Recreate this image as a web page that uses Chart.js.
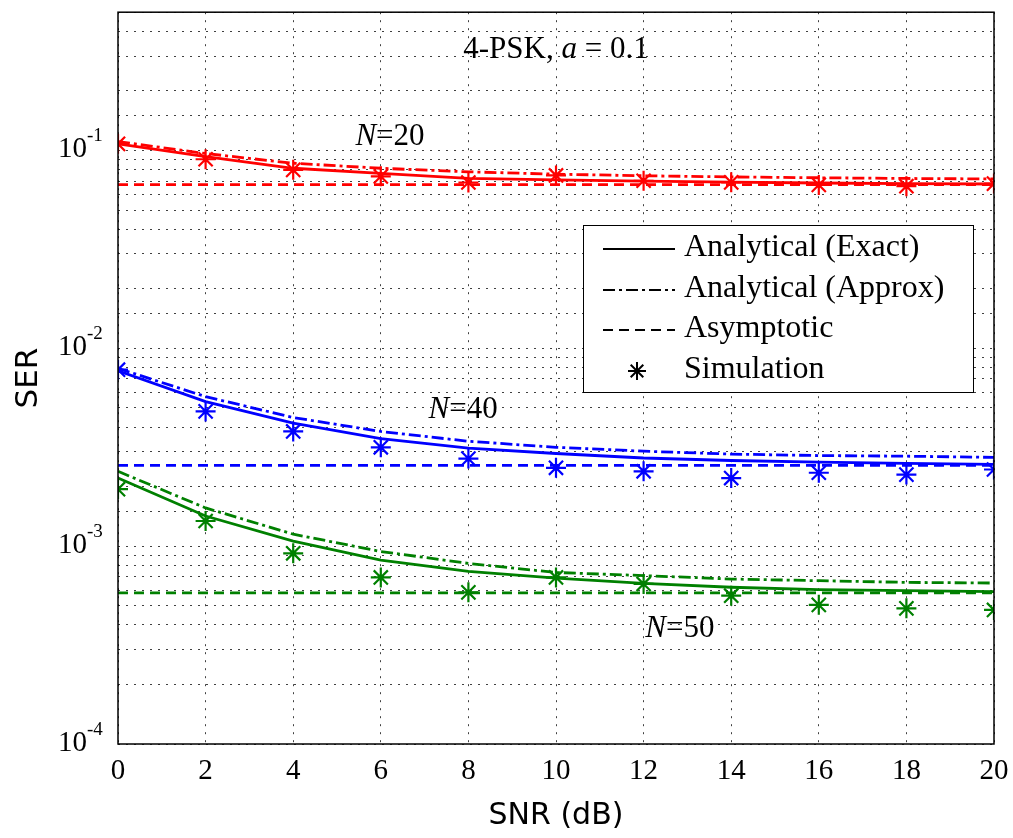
<!DOCTYPE html>
<html><head><meta charset="utf-8">
<script src="https://cdn.jsdelivr.net/npm/chart.js@4.4.0/dist/chart.umd.min.js"></script>
<style>html,body{margin:0;padding:0;background:#fff;}canvas{display:block;}</style>
</head><body>
<canvas id="c" width="1013" height="838"></canvas>
<script>
// ---- data ----
const snr = [0, 2, 4, 6, 8, 10, 12, 14, 16, 18, 20];
const xTickValues = [0, 2, 4, 6, 8, 10, 12, 14, 16, 18, 20];
const yDecadeExponents = [-4, -3, -2, -1];

const n20Exact  = [0.108, 0.093, 0.0813, 0.0766, 0.0722, 0.0711, 0.0700, 0.0692, 0.0685, 0.0680, 0.0677];
const n20Approx = [0.111, 0.0965, 0.0862, 0.0813, 0.0780, 0.0759, 0.0745, 0.0735, 0.0728, 0.0722, 0.0718];
const n20Asym   = 0.0672;
const n20Sim    = [0.108, 0.0903, 0.0798, 0.0740, 0.0689, 0.0748, 0.0703, 0.0690, 0.0670, 0.0660, 0.0680];

const n40Exact  = [0.00769, 0.00538, 0.00419, 0.00350, 0.00313, 0.00294, 0.00279, 0.00271, 0.00266, 0.00262, 0.00259];
const n40Approx = [0.00792, 0.00570, 0.00447, 0.00380, 0.00339, 0.00316, 0.00302, 0.00292, 0.00287, 0.00285, 0.00281];
const n40Asym   = 0.00256;
const n40Sim    = [0.00780, 0.00480, 0.00380, 0.00316, 0.00277, 0.00249, 0.00239, 0.00221, 0.00235, 0.00230, 0.00244];

const n50Exact  = [0.00221, 0.00142, 0.00106, 0.00085, 0.000745, 0.00069, 0.000648, 0.00062, 0.000603, 0.000596, 0.000589];
const n50Approx = [0.00239, 0.00156, 0.00115, 0.00094, 0.000818, 0.000736, 0.00071, 0.000682, 0.000669, 0.000656, 0.000651];
const n50Asym   = 0.00058;
const n50Sim    = [0.00194, 0.00134, 0.00092, 0.000695, 0.000584, 0.000695, 0.000644, 0.000562, 0.000505, 0.000485, 0.000476];

const legendLabels = ['Analytical (Exact)', 'Analytical (Approx)', 'Asymptotic', 'Simulation'];
const curveLabels = [
  {name: 'N', text: '=20', x: 6.21, y: 0.1175},
  {name: 'N', text: '=40', x: 7.88, y: 0.00491},
  {name: 'N', text: '=50', x: 12.83, y: 0.000384}
];
const plotTitle = {pre: '4-PSK, ', sym: 'a', post: ' = 0.1', x: 10, y: 0.322};

// ---- styling ----
const DASHDOT = [12, 4, 3, 4];
const DASHED = [10, 6];
const SERIF = '"Liberation Serif", "Times New Roman", serif';
const SANS = '"DejaVu Sans", sans-serif';
const LW = 2.8;

const pts = arr => arr.map((v, i) => ({x: snr[i], y: v}));
const flat = v => [{x: snr[0], y: v}, {x: snr[snr.length - 1], y: v}];

function group(color, exact, approx, asym, sim) {
  return [
    {data: pts(exact), borderColor: color, borderWidth: LW, pointRadius: 0, fill: false},
    {data: pts(approx), borderColor: color, borderWidth: LW, borderDash: DASHDOT, pointRadius: 0, fill: false},
    {data: flat(asym), borderColor: color, borderWidth: LW, borderDash: DASHED, pointRadius: 0, fill: false},
    {data: pts(sim), borderColor: color, showLine: false, pointStyle: 'star', pointRadius: 10,
     pointBorderWidth: 2.2, pointBorderColor: color, pointBackgroundColor: color}
  ];
}

const datasets = [
  ...group('#ff0000', n20Exact, n20Approx, n20Asym, n20Sim),
  ...group('#0000ff', n40Exact, n40Approx, n40Asym, n40Sim),
  ...group('#008000', n50Exact, n50Approx, n50Asym, n50Sim)
];

const overlay = {
  id: 'overlay',
  afterDraw(chart) {
    const {ctx, chartArea: a, scales: {x, y}} = chart;
    ctx.save();
    ctx.setLineDash([]);
    // frame
    ctx.strokeStyle = '#000';
    ctx.lineWidth = 1.5;
    ctx.strokeRect(a.left, a.top, a.right - a.left, a.bottom - a.top);

    // y decade tick labels with superscripts
    ctx.fillStyle = '#000';
    ctx.textBaseline = 'middle';
    for (const e of yDecadeExponents) {
      const py = y.getPixelForValue(Math.pow(10, e));
      ctx.font = '29px ' + SERIF;
      ctx.textAlign = 'right';
      ctx.fillText('10', a.left - 31, py - 1);
      ctx.font = '19px ' + SERIF;
      ctx.textAlign = 'left';
      ctx.fillText('-' + Math.abs(e), a.left - 31, py - 14);
    }

    // plot title
    ctx.textBaseline = 'middle';
    ctx.textAlign = 'left';
    const tfN = '31px ' + SERIF, tfI = 'italic 31px ' + SERIF;
    ctx.font = tfN; const w1 = ctx.measureText(plotTitle.pre).width;
    ctx.font = tfI; const w2 = ctx.measureText(plotTitle.sym).width;
    ctx.font = tfN; const w3 = ctx.measureText(plotTitle.post).width;
    let tx = x.getPixelForValue(plotTitle.x) - (w1 + w2 + w3) / 2;
    const ty = y.getPixelForValue(plotTitle.y);
    ctx.font = tfN; ctx.fillText(plotTitle.pre, tx, ty); tx += w1;
    ctx.font = tfI; ctx.fillText(plotTitle.sym, tx, ty); tx += w2;
    ctx.font = tfN; ctx.fillText(plotTitle.post, tx, ty);

    // curve labels
    for (const c of curveLabels) {
      ctx.font = tfI; const wa = ctx.measureText(c.name).width;
      ctx.font = tfN; const wb = ctx.measureText(c.text).width;
      let cx = x.getPixelForValue(c.x) - (wa + wb) / 2;
      const cy = y.getPixelForValue(c.y);
      ctx.font = tfI; ctx.fillText(c.name, cx, cy);
      ctx.font = tfN; ctx.fillText(c.text, cx + wa, cy);
    }

    // legend
    const lx = 583, ly = 225, lw = 390, lh = 167;
    ctx.fillStyle = '#fff';
    ctx.fillRect(lx, ly, lw, lh);
    ctx.strokeStyle = '#000';
    ctx.lineWidth = 1;
    ctx.strokeRect(lx + 0.5, ly + 0.5, lw, lh);
    const rows = [249, 290, 330, 371];
    const dashes = [[], DASHDOT, DASHED, null];
    ctx.lineWidth = 2;
    for (let i = 0; i < 4; i++) {
      const ry = rows[i];
      ctx.strokeStyle = '#000';
      if (dashes[i]) {
        ctx.setLineDash(dashes[i]);
        ctx.beginPath();
        ctx.moveTo(603, ry);
        ctx.lineTo(675, ry);
        ctx.stroke();
        ctx.setLineDash([]);
      } else {
        const r = 9;
        ctx.beginPath();
        ctx.moveTo(637, ry - r); ctx.lineTo(637, ry + r);
        ctx.moveTo(637 - r * 0.7, ry - r * 0.7); ctx.lineTo(637 + r * 0.7, ry + r * 0.7);
        ctx.moveTo(637 - r * 0.7, ry + r * 0.7); ctx.lineTo(637 + r * 0.7, ry - r * 0.7);
        ctx.moveTo(637 - r, ry); ctx.lineTo(637 + r, ry);
        ctx.stroke();
      }
      ctx.fillStyle = '#000';
      ctx.font = '32px ' + SERIF;
      ctx.textAlign = 'left';
      ctx.textBaseline = 'middle';
      ctx.fillText(legendLabels[i], 684, ry - 1);
    }
    ctx.restore();
  }
};

new Chart(document.getElementById('c'), {
  type: 'line',
  data: {datasets},
  options: {
    responsive: false,
    animation: false,
    layout: {padding: {top: 7, right: 19, bottom: 0, left: 0}},
    plugins: {legend: {display: false}, tooltip: {enabled: false}},
    scales: {
      x: {
        type: 'linear', min: 0, max: 20,
        afterBuildTicks: s => { s.ticks = xTickValues.map(v => ({value: v})); },
        afterFit: s => { s.height = 94; s.paddingLeft = 0; s.paddingRight = 0; },
        ticks: {color: '#000', font: {family: SERIF, size: 29}, padding: 10, maxRotation: 0},
        grid: {color: 'rgba(0,0,0,0.75)', lineWidth: 1, drawTicks: false},
        border: {display: false, dash: [2, 6]},
        title: {display: true, text: 'SNR (dB)', color: '#000', font: {family: SANS, size: 30}, padding: {top: 0, bottom: 4}}
      },
      y: {
        type: 'logarithmic', min: 1e-4, max: 0.5,
        afterFit: s => { s.width = 118; s.paddingTop = 0; s.paddingBottom = 0; },
        ticks: {display: false},
        grid: {color: 'rgba(0,0,0,0.75)', lineWidth: 1, drawTicks: false},
        border: {display: false, dash: [2, 6]},
        title: {display: true, text: 'SER', color: '#000', font: {family: SANS, size: 31}, padding: {top: 10, bottom: 0}}
      }
    }
  },
  plugins: [overlay]
});
</script>
</body></html>
